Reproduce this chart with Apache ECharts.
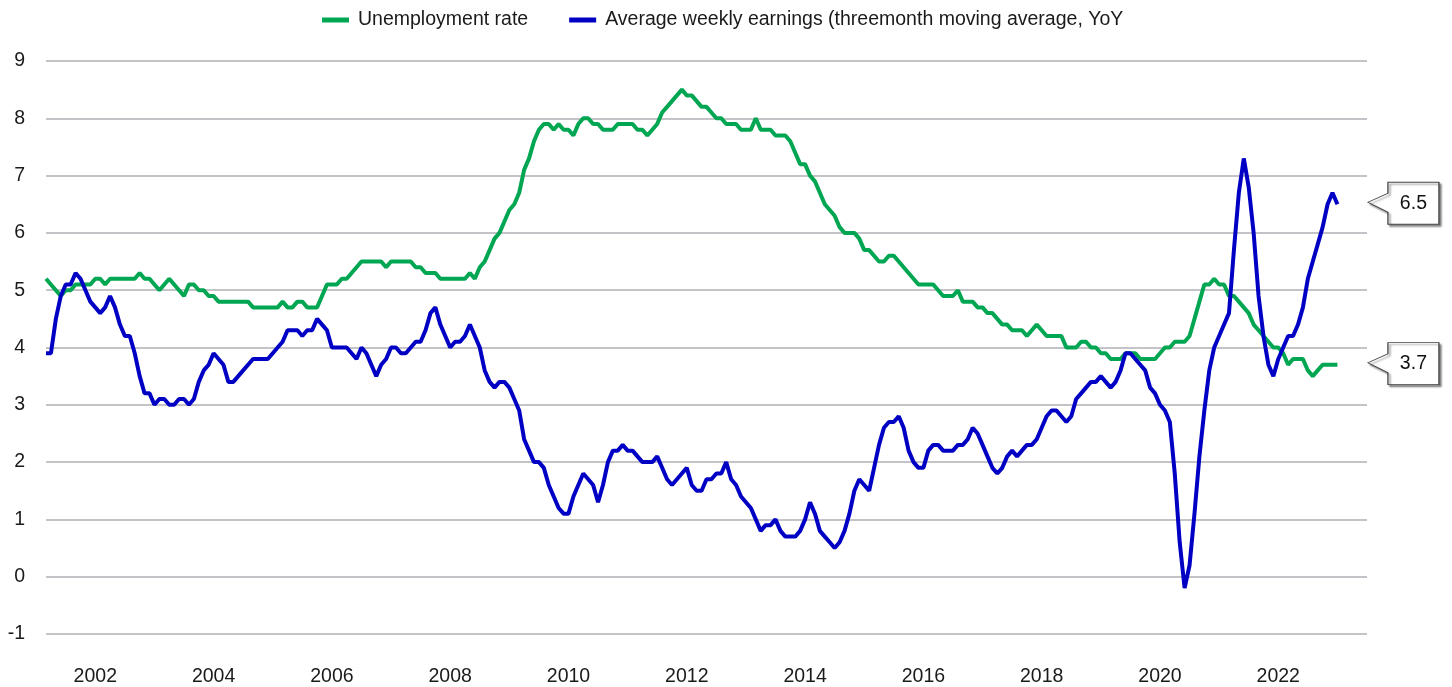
<!DOCTYPE html>
<html lang="en" style="height: 100%">
<head>
  <meta charset="utf-8">
</head>
<body style="height: 100%; margin: 0">
  <div id="container" style="height: 100%"></div>

  <script type="text/javascript" src="https://cdn.jsdelivr.net/npm/echarts@6/dist/echarts.min.js"></script>

  <script type="text/javascript">
    // monthly series, Mar 2001 .. Jan 2023
    var startYear = 2001;
    var startMonth = 3;
    var axisMonths = 269; // a few empty months after the last point, like the original plot area

    var tickYears = [2002, 2004, 2006, 2008, 2010, 2012, 2014, 2016, 2018, 2020, 2022];

    var unemployment = [
      5.2, 5.1, 5.0, 4.9, 5.0, 5.0, 5.1, 5.1, 5.1, 5.1,
      5.2, 5.2, 5.1, 5.2, 5.2, 5.2, 5.2, 5.2, 5.2, 5.3,
      5.2, 5.2, 5.1, 5.0, 5.1, 5.2, 5.1, 5.0, 4.9, 5.1,
      5.1, 5.0, 5.0, 4.9, 4.9, 4.8, 4.8, 4.8, 4.8, 4.8,
      4.8, 4.8, 4.7, 4.7, 4.7, 4.7, 4.7, 4.7, 4.8, 4.7,
      4.7, 4.8, 4.8, 4.7, 4.7, 4.7, 4.9, 5.1, 5.1, 5.1,
      5.2, 5.2, 5.3, 5.4, 5.5, 5.5, 5.5, 5.5, 5.5, 5.4,
      5.5, 5.5, 5.5, 5.5, 5.5, 5.4, 5.4, 5.3, 5.3, 5.3,
      5.2, 5.2, 5.2, 5.2, 5.2, 5.2, 5.3, 5.2, 5.4, 5.5,
      5.7, 5.9, 6.0, 6.2, 6.4, 6.5, 6.7, 7.1, 7.3, 7.6,
      7.8, 7.9, 7.9, 7.8, 7.9, 7.8, 7.8, 7.7, 7.9, 8.0,
      8.0, 7.9, 7.9, 7.8, 7.8, 7.8, 7.9, 7.9, 7.9, 7.9,
      7.8, 7.8, 7.7, 7.8, 7.9, 8.1, 8.2, 8.3, 8.4, 8.5,
      8.4, 8.4, 8.3, 8.2, 8.2, 8.1, 8.0, 8.0, 7.9, 7.9,
      7.9, 7.8, 7.8, 7.8, 8.0, 7.8, 7.8, 7.8, 7.7, 7.7,
      7.7, 7.6, 7.4, 7.2, 7.2, 7.0, 6.9, 6.7, 6.5, 6.4,
      6.3, 6.1, 6.0, 6.0, 6.0, 5.9, 5.7, 5.7, 5.6, 5.5,
      5.5, 5.6, 5.6, 5.5, 5.4, 5.3, 5.2, 5.1, 5.1, 5.1,
      5.1, 5.0, 4.9, 4.9, 4.9, 5.0, 4.8, 4.8, 4.8, 4.7,
      4.7, 4.6, 4.6, 4.5, 4.4, 4.4, 4.3, 4.3, 4.3, 4.2,
      4.3, 4.4, 4.3, 4.2, 4.2, 4.2, 4.2, 4.0, 4.0, 4.0,
      4.1, 4.1, 4.0, 4.0, 3.9, 3.9, 3.8, 3.8, 3.8, 3.9,
      3.9, 3.9, 3.8, 3.8, 3.8, 3.8, 3.9, 4.0, 4.0, 4.1,
      4.1, 4.1, 4.2, 4.5, 4.8, 5.1, 5.1, 5.2, 5.1, 5.1,
      4.9, 4.9, 4.8, 4.7, 4.6, 4.4, 4.3, 4.2, 4.1, 4.0,
      4.0, 3.9, 3.7, 3.8, 3.8, 3.8, 3.6, 3.5, 3.6, 3.7,
      3.7, 3.7, 3.7
    ];

    var weeklyEarnings = [
      3.9, 3.9, 4.5, 4.9, 5.1, 5.1, 5.3, 5.2, 5.0, 4.8,
      4.7, 4.6, 4.7, 4.9, 4.7, 4.4, 4.2, 4.2, 3.9, 3.5,
      3.2, 3.2, 3.0, 3.1, 3.1, 3.0, 3.0, 3.1, 3.1, 3.0,
      3.1, 3.4, 3.6, 3.7, 3.9, 3.8, 3.7, 3.4, 3.4, 3.5,
      3.6, 3.7, 3.8, 3.8, 3.8, 3.8, 3.9, 4.0, 4.1, 4.3,
      4.3, 4.3, 4.2, 4.3, 4.3, 4.5, 4.4, 4.3, 4.0, 4.0,
      4.0, 4.0, 3.9, 3.8, 4.0, 3.9, 3.7, 3.5, 3.7, 3.8,
      4.0, 4.0, 3.9, 3.9, 4.0, 4.1, 4.1, 4.3, 4.6, 4.7,
      4.4, 4.2, 4.0, 4.1, 4.1, 4.2, 4.4, 4.2, 4.0, 3.6,
      3.4, 3.3, 3.4, 3.4, 3.3, 3.1, 2.9, 2.4, 2.2, 2.0,
      2.0, 1.9, 1.6, 1.4, 1.2, 1.1, 1.1, 1.4, 1.6, 1.8,
      1.7, 1.6, 1.3, 1.6, 2.0, 2.2, 2.2, 2.3, 2.2, 2.2,
      2.1, 2.0, 2.0, 2.0, 2.1, 1.9, 1.7, 1.6, 1.7, 1.8,
      1.9, 1.6, 1.5, 1.5, 1.7, 1.7, 1.8, 1.8, 2.0, 1.7,
      1.6, 1.4, 1.3, 1.2, 1.0, 0.8, 0.9, 0.9, 1.0, 0.8,
      0.7, 0.7, 0.7, 0.8, 1.0, 1.3, 1.1, 0.8, 0.7, 0.6,
      0.5, 0.6, 0.8, 1.1, 1.5, 1.7, 1.6, 1.5, 1.9, 2.3,
      2.6, 2.7, 2.7, 2.8, 2.6, 2.2, 2.0, 1.9, 1.9, 2.2,
      2.3, 2.3, 2.2, 2.2, 2.2, 2.3, 2.3, 2.4, 2.6, 2.5,
      2.3, 2.1, 1.9, 1.8, 1.9, 2.1, 2.2, 2.1, 2.2, 2.3,
      2.3, 2.4, 2.6, 2.8, 2.9, 2.9, 2.8, 2.7, 2.8, 3.1,
      3.2, 3.3, 3.4, 3.4, 3.5, 3.4, 3.3, 3.4, 3.6, 3.9,
      3.9, 3.8, 3.7, 3.6, 3.3, 3.2, 3.0, 2.9, 2.7, 1.8,
      0.6, -0.2, 0.2, 1.1, 2.1, 2.9, 3.6, 4.0, 4.2, 4.4,
      4.6, 5.7, 6.7, 7.3, 6.8, 6.0, 4.9, 4.2, 3.7, 3.5,
      3.8, 4.0, 4.2, 4.2, 4.4, 4.7, 5.2, 5.5, 5.8, 6.1,
      6.5, 6.7, 6.5
    ];

    var months = [];
    for (var i = 0; i < axisMonths; i++) {
      var m = startMonth - 1 + i;
      var y = startYear + Math.floor(m / 12);
      var mm = (m % 12) + 1;
      months.push(y + '-' + (mm < 10 ? '0' + mm : mm));
    }

    var GREEN = '#00a651';
    var BLUE = '#0000c4';
    var FONT = 'Liberation Sans, Arial, sans-serif';
    var FS = 19.5;

    function calloutFor(values) {
      var last = values.length - 1;
      return {
        silent: true,
        symbol: 'path://M0,20 L20,11 L20,0 L71,0 L71,42 L20,42 L20,30 Z',
        symbolSize: [71, 42],
        symbolOffset: [66, -1],
        itemStyle: {
          color: '#fff',
          borderColor: '#444',
          borderWidth: 1,
          shadowColor: 'rgba(0,0,0,0.45)',
          shadowOffsetX: 2,
          shadowOffsetY: 2,
          shadowBlur: 2
        },
        label: {
          show: true,
          position: 'inside',
          offset: [10, 0],
          color: '#111',
          fontSize: FS,
          fontFamily: FONT,
          formatter: function (p) { return p.value.toFixed(1); }
        },
        data: [{ coord: [months[last], values[last]], value: values[last] }]
      };
    }

    var dom = document.getElementById('container');
    var myChart = echarts.init(dom, null, { renderer: 'canvas' });

    var option = {
      animation: false,
      textStyle: { fontFamily: FONT },
      legend: {
        left: 317,
        top: 5,
        icon: 'rect',
        itemWidth: 27,
        itemHeight: 5,
        itemGap: 41,
        textStyle: { fontSize: FS, color: '#1a1a1a', fontFamily: FONT, padding: [0, 0, 0, 4] },
        data: ['Unemployment rate', 'Average weekly earnings (threemonth moving average, YoY']
      },
      grid: {
        left: 46,
        right: 85,
        top: 61,
        bottom: 53
      },
      xAxis: {
        type: 'category',
        boundaryGap: false,
        data: months,
        axisLine: { show: false },
        axisTick: { show: false },
        splitLine: { show: false },
        axisLabel: {
          margin: 33,
          fontSize: FS,
          color: '#1a1a1a',
          interval: function (idx, val) {
            var parts = val.split('-');
            return parts[1] === '01' && tickYears.indexOf(+parts[0]) >= 0;
          },
          formatter: function (val) { return val.split('-')[0]; }
        }
      },
      yAxis: {
        type: 'value',
        min: -1,
        max: 9,
        interval: 1,
        axisLine: { show: false },
        axisTick: { show: false },
        axisLabel: { fontSize: FS, color: '#1a1a1a', margin: 21 },
        splitLine: { lineStyle: { color: '#c3c3c8', width: 2 } }
      },
      series: [
        {
          name: 'Unemployment rate',
          type: 'line',
          data: unemployment,
          showSymbol: false,
          color: GREEN,
          lineStyle: { width: 4, color: GREEN },
          markPoint: calloutFor(unemployment)
        },
        {
          name: 'Average weekly earnings (threemonth moving average, YoY',
          type: 'line',
          data: weeklyEarnings,
          showSymbol: false,
          color: BLUE,
          lineStyle: { width: 4, color: BLUE },
          markPoint: calloutFor(weeklyEarnings)
        }
      ]
    };

    myChart.setOption(option);
    window.addEventListener('resize', myChart.resize);
  </script>
</body>
</html>
